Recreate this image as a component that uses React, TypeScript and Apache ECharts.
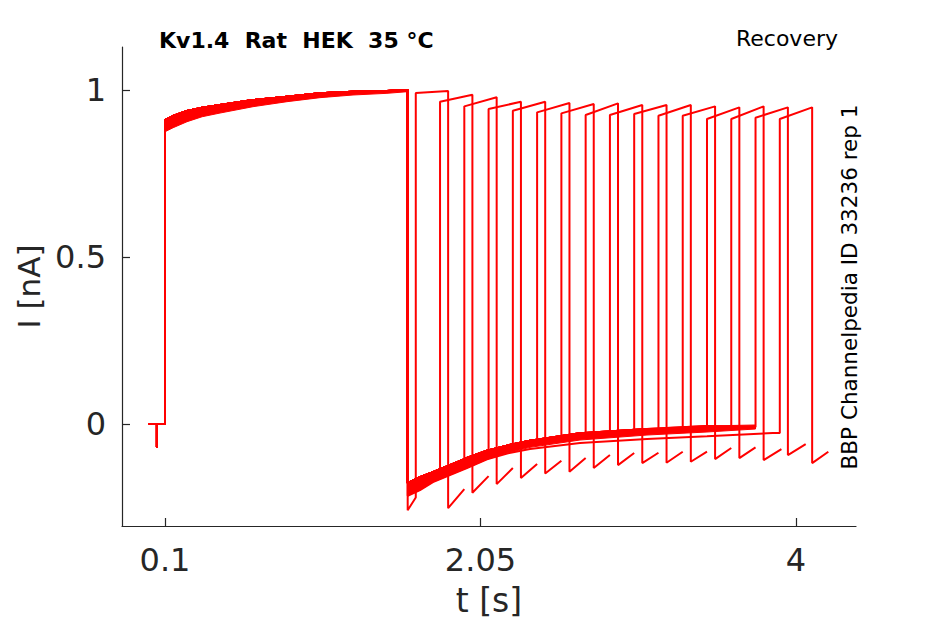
import React, { useEffect, useRef } from "react";
import * as echarts from "echarts";

// axis ticks
const xTicks = [0.1, 2.05, 4];
const yTicks = [0, 0.5, 1];

// holding level and capacitive blip before the first pulse
const preTimes = [0, 0.05, 0.05, 0.05, 0.1];
const preValues = [0, 0, -0.07, 0, 0];

// first (conditioning) pulse envelope
const pulse1Times = [0.1, 0.15, 0.236, 0.33, 0.44, 0.644, 0.854, 1.058, 1.262, 1.472, 1.6];
const pulse1Upper = [0.91, 0.922, 0.937, 0.947, 0.955, 0.97, 0.98, 0.99, 0.995, 0.997, 1.0];
const pulse1Lower = [0.875, 0.887, 0.905, 0.92, 0.931, 0.95, 0.965, 0.977, 0.985, 0.99, 0.995];

// recovery tail envelope (sweeps 2-15)
const tailTimes = [1.6, 1.676, 1.756, 1.861, 1.966, 2.09, 2.22, 2.356, 2.665, 3.079, 3.45, 3.75];
const tailUpper = [-0.177, -0.159, -0.144, -0.123, -0.102, -0.08, -0.064, -0.05, -0.028, -0.015, -0.006, -0.003];
const tailLower = [-0.215, -0.198, -0.174, -0.153, -0.132, -0.106, -0.086, -0.07, -0.048, -0.033, -0.024, -0.015];

// sweep 1 tail start, sweep 16 distinct tail
const sweep1TailStart = -0.258;
const tail16Times = [1.6, 1.676, 1.756, 1.861, 1.966, 2.09, 2.22, 2.356, 2.665, 3.079, 3.45, 3.857];
const tail16Values = [-0.215, -0.198, -0.174, -0.153, -0.132, -0.106, -0.088, -0.075, -0.057, -0.045, -0.037, -0.027];

// per-sweep test pulse
const pulse2Start = [1.65, 1.8, 1.95, 2.1, 2.25, 2.4, 2.55, 2.7, 2.85, 3.0, 3.15, 3.3, 3.45, 3.6, 3.75, 3.9];
const tailEndLevel = [-0.22, -0.15, -0.12, -0.094, -0.072, -0.055, -0.044, -0.036, -0.031, -0.026, -0.022, -0.018, -0.014, -0.01, -0.009, -0.027];
const pulse2TopStart = [0.991, 0.965, 0.951, 0.943, 0.938, 0.933, 0.93, 0.925, 0.925, 0.928, 0.923, 0.923, 0.913, 0.913, 0.917, 0.913];
const pulse2End = [1.85, 2.0, 2.15, 2.3, 2.45, 2.6, 2.75, 2.9, 3.05, 3.2, 3.35, 3.5, 3.65, 3.8, 3.95, 4.1];
const pulse2TopEnd = [0.997, 0.986, 0.978, 0.965, 0.965, 0.961, 0.958, 0.96, 0.955, 0.955, 0.955, 0.951, 0.948, 0.951, 0.948, 0.948];
const afterTailStart = [-0.252, -0.206, -0.18, -0.162, -0.148, -0.143, -0.132, -0.123, -0.117, -0.116, -0.113, -0.105, -0.102, -0.108, -0.093, -0.117];
const sweepEnd = [1.95, 2.1, 2.25, 2.4, 2.55, 2.7, 2.85, 3.0, 3.15, 3.3, 3.45, 3.6, 3.75, 3.91, 4.06, 4.2];
const afterTailEnd = [-0.195, -0.156, -0.132, -0.12, -0.11, -0.102, -0.093, -0.087, -0.086, -0.083, -0.083, -0.072, -0.07, -0.075, -0.06, -0.083];

const RED = "#ff0000";
const AX = "#262626";
const FONT = '"DejaVu Sans", sans-serif';

function buildSweep(k: number): number[][] {
  const pts: number[][] = [];
  for (let i = 0; i < preTimes.length; i++) pts.push([preTimes[i], preValues[i]]);
  for (let i = 0; i < pulse1Times.length; i++) pts.push([pulse1Times[i], pulse1Upper[i]]);
  const s = pulse2Start[k];
  if (k === 0) {
    pts.push([1.6, sweep1TailStart]);
  } else if (k === pulse2Start.length - 1) {
    for (let i = 0; i < tail16Times.length; i++) if (tail16Times[i] < s) pts.push([tail16Times[i], tail16Values[i]]);
  } else {
    for (let i = 0; i < tailTimes.length; i++) if (tailTimes[i] < s) pts.push([tailTimes[i], tailUpper[i]]);
  }
  pts.push([s, tailEndLevel[k]]);
  pts.push([s, pulse2TopStart[k]]);
  pts.push([pulse2End[k], pulse2TopEnd[k]]);
  pts.push([pulse2End[k], afterTailStart[k]]);
  pts.push([sweepEnd[k], afterTailEnd[k]]);
  return pts;
}

export default function App() {
  const ref = useRef<HTMLDivElement>(null);
  useEffect(() => {
    if (!ref.current) return;
    const chart = echarts.init(ref.current, undefined, { renderer: "svg" });
    const sweeps = pulse2Start.map((_, k) => ({
      type: "line",
      name: "sweep " + (k + 1),
      data: buildSweep(k),
      showSymbol: false,
      symbol: "none",
      silent: true,
      lineStyle: { color: RED, width: 2 },
      z: 3,
    }));
    const bandSeries = {
      type: "custom",
      name: "envelope",
      coordinateSystem: "cartesian2d",
      silent: true,
      data: [[0, 0]],
      z: 2,
      renderItem: (_params: any, api: any) => {
        const p1: number[][] = [];
        for (let i = 0; i < pulse1Times.length; i++) p1.push(api.coord([pulse1Times[i], pulse1Upper[i]]));
        for (let i = pulse1Times.length - 1; i >= 0; i--) p1.push(api.coord([pulse1Times[i], pulse1Lower[i]]));
        const p2: number[][] = [];
        for (let i = 0; i < tailTimes.length; i++) p2.push(api.coord([tailTimes[i], tailUpper[i]]));
        for (let i = tailTimes.length - 1; i >= 0; i--) p2.push(api.coord([tailTimes[i], tailLower[i]]));
        return {
          type: "group",
          children: [
            { type: "polygon", shape: { points: p1 }, style: { fill: RED, stroke: RED, lineWidth: 1 } },
            { type: "polygon", shape: { points: p2 }, style: { fill: RED, stroke: RED, lineWidth: 1 } },
          ],
        };
      },
    };
    chart.setOption({
      animation: false,
      backgroundColor: "#ffffff",
      grid: { left: 122, right: 89, top: 47, bottom: 98 },
      xAxis: {
        type: "value",
        min: -0.1658,
        max: 4.371,
        name: "t [s]",
        nameLocation: "middle",
        nameGap: 58,
        nameTextStyle: { fontSize: 33, fontFamily: FONT, color: AX },
        axisLine: { show: true, onZero: false, lineStyle: { color: AX, width: 1.2 } },
        axisTick: { show: true, inside: true, length: 8, customValues: xTicks, lineStyle: { color: AX, width: 1.2 } },
        axisLabel: { customValues: xTicks, margin: 18, fontSize: 32, fontFamily: FONT, color: AX },
        splitLine: { show: false },
      },
      yAxis: {
        type: "value",
        min: -0.3054,
        max: 1.1287,
        name: "I [nA]",
        nameLocation: "middle",
        nameGap: 78,
        nameRotate: 90,
        nameTextStyle: { fontSize: 31, fontFamily: FONT, color: AX },
        axisLine: { show: true, onZero: false, lineStyle: { color: AX, width: 1.2 } },
        axisTick: { show: true, inside: true, length: 8, customValues: yTicks, lineStyle: { color: AX, width: 1.2 } },
        axisLabel: { customValues: yTicks, margin: 16, fontSize: 32, fontFamily: FONT, color: AX },
        splitLine: { show: false },
      },
      graphic: [
        {
          type: "text",
          x: 159,
          y: 40,
          style: {
            text: "Kv1.4  Rat  HEK  35 °C",
            font: 'bold 22px "DejaVu Sans"',
            fill: "#000",
            align: "left",
            verticalAlign: "middle",
            textAlign: "left",
            textVerticalAlign: "middle",
          },
        },
        {
          type: "text",
          x: 838,
          y: 38.5,
          style: {
            text: "Recovery",
            font: '22px "DejaVu Sans"',
            fill: "#000",
            align: "right",
            verticalAlign: "middle",
            textAlign: "right",
            textVerticalAlign: "middle",
          },
        },
        {
          type: "text",
          x: 849,
          y: 287,
          rotation: Math.PI / 2,
          style: {
            text: "BBP Channelpedia ID 33236 rep 1",
            font: '21.5px "DejaVu Sans"',
            fill: "#000",
            align: "center",
            verticalAlign: "middle",
            textAlign: "center",
            textVerticalAlign: "middle",
          },
        },
      ],
      series: [bandSeries, ...sweeps],
    });
    return () => chart.dispose();
  }, []);
  return (
    <div
      ref={ref}
      style={{ position: "fixed", left: 0, top: 0, width: 945, height: 624, background: "#fff" }}
    />
  );
}
